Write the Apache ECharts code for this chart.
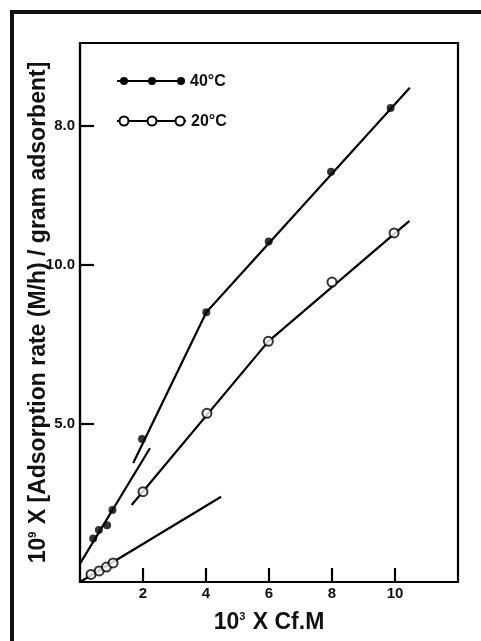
<!DOCTYPE html>
<html>
<head>
<meta charset="utf-8">
<script src="https://cdn.jsdelivr.net/npm/echarts@6/dist/echarts.min.js"></script>
<style>
  html, body { margin: 0; padding: 0; background: #fff; }
  #chart { width: 481px; height: 641px; }
</style>
</head>
<body>
<div id="chart"></div>
<script>
// measured points, x = 10^3 Cf.M, y = adsorption rate (axis units)
const hotX = [0.42, 0.60, 0.86, 1.03, 1.97, 4.01, 5.99, 7.97, 9.86]
const hotY = [1.37, 1.64, 1.79, 2.27, 4.51, 8.51, 10.74, 12.94, 14.95]
const coldX = [0.35, 0.61, 0.84, 1.05, 2.00, 4.03, 5.98, 8.00, 9.97]
const coldY = [0.24, 0.35, 0.47, 0.60, 2.85, 5.32, 7.59, 9.46, 11.01]

// drawn fit lines
const hotLowFit = [[0, 0.58], [2.22, 4.22]]
const hotHighFit = [[1.69, 3.75], [4.01, 8.51], [10.47, 15.59]]
const coldLowFit = [[0, 0], [4.48, 2.69]]
const coldHighFit = [[1.64, 2.43], [5.98, 7.59], [10.46, 11.39]]

// tick labels (as printed on the figure)
const xTickValues = [2, 4, 6, 8, 10]
const yTickValues = [5, 10, 14.4]
const yTickLabels = ['5.0', '10.0', '8.0']

const FONT = "'Liberation Sans', Arial, sans-serif"

const zip = (xs, ys) => xs.map((x, i) => [x, ys[i]])

const fitLine = data => ({
  type: 'line',
  data,
  symbol: 'none',
  silent: true,
  z: 2,
  lineStyle: { color: '#000', width: 2.2 }
})

const nameRich = {
  b: { fontFamily: FONT, fontWeight: 'bold', fontSize: 23, color: '#111' },
  s: { fontFamily: FONT, fontWeight: 'bold', fontSize: 11, color: '#111', verticalAlign: 'top', padding: [0, 1, 12, 0] }
}

const chart = echarts.init(document.getElementById('chart'))
chart.setOption({
  backgroundColor: '#fff',
  animation: false,
  grid: {
    left: 80,
    top: 43,
    right: 23,
    bottom: 59,
    outerBoundsMode: 'none',
    show: true,
    borderColor: '#000',
    borderWidth: 2.2
  },
  xAxis: {
    type: 'value',
    min: 0,
    max: 12,
    interval: 2,
    splitLine: { show: false },
    axisLine: { lineStyle: { color: '#000', width: 2.2 } },
    axisTick: {
      inside: true,
      length: 14,
      customValues: xTickValues,
      lineStyle: { color: '#000', width: 2.2 }
    },
    axisLabel: {
      customValues: xTickValues,
      margin: 4,
      color: '#111',
      fontFamily: FONT,
      fontWeight: 'bold',
      fontSize: 15
    },
    name: '{b|10}{s|3}{b| X Cf.M}',
    nameLocation: 'middle',
    nameGap: 29,
    nameMoveOverlap: false,
    nameTextStyle: { rich: nameRich }
  },
  yAxis: {
    type: 'value',
    min: 0,
    max: 17,
    splitLine: { show: false },
    axisLine: { lineStyle: { color: '#000', width: 2.2 } },
    axisTick: {
      inside: true,
      length: 14,
      customValues: yTickValues,
      lineStyle: { color: '#000', width: 2.2 }
    },
    axisLabel: {
      customValues: yTickValues,
      formatter: v => yTickLabels[yTickValues.indexOf(v)],
      margin: 5,
      color: '#111',
      fontFamily: FONT,
      fontWeight: 'bold',
      fontSize: 15
    },
    name: '{b|10}{s|9}{b| X [Adsorption rate (M/h) / gram adsorbent]}',
    nameLocation: 'middle',
    nameGap: 30,
    nameMoveOverlap: false,
    nameTextStyle: { rich: nameRich }
  },
  graphic: [
    // outer frame (top and left edges)
    { type: 'line', shape: { x1: 10, y1: 12, x2: 481, y2: 12 }, style: { stroke: '#111', lineWidth: 4 } },
    { type: 'line', shape: { x1: 12, y1: 10, x2: 12, y2: 641 }, style: { stroke: '#111', lineWidth: 4 } },
    // legend
    { type: 'line', shape: { x1: 117, y1: 81, x2: 184, y2: 81 }, style: { stroke: '#000', lineWidth: 2.2 } },
    { type: 'circle', shape: { cx: 124, cy: 81, r: 4 }, style: { fill: '#000' } },
    { type: 'circle', shape: { cx: 152, cy: 81, r: 4 }, style: { fill: '#000' } },
    { type: 'circle', shape: { cx: 181, cy: 81, r: 4 }, style: { fill: '#000' } },
    { type: 'text', x: 190, y: 82, style: { text: '40°C', fill: '#111', font: 'bold 16px ' + FONT, verticalAlign: 'middle' } },
    { type: 'line', shape: { x1: 117, y1: 121, x2: 186, y2: 121 }, style: { stroke: '#000', lineWidth: 2.2 } },
    { type: 'circle', shape: { cx: 124, cy: 121, r: 4.5 }, style: { fill: '#fff', stroke: '#000', lineWidth: 2 } },
    { type: 'circle', shape: { cx: 152, cy: 121, r: 4.5 }, style: { fill: '#fff', stroke: '#000', lineWidth: 2 } },
    { type: 'circle', shape: { cx: 180, cy: 121, r: 4.5 }, style: { fill: '#fff', stroke: '#000', lineWidth: 2 } },
    { type: 'text', x: 191, y: 122, style: { text: '20°C', fill: '#111', font: 'bold 16px ' + FONT, verticalAlign: 'middle' } }
  ],
  series: [
    fitLine(hotLowFit),
    fitLine(hotHighFit),
    fitLine(coldLowFit),
    fitLine(coldHighFit),
    {
      name: '40°C',
      type: 'scatter',
      data: zip(hotX, hotY),
      symbol: 'circle',
      symbolSize: 8,
      z: 3,
      itemStyle: { color: '#000' }
    },
    {
      name: '20°C',
      type: 'scatter',
      data: zip(coldX, coldY),
      symbol: 'circle',
      symbolSize: 9,
      z: 3,
      itemStyle: { color: '#fff', borderColor: '#000', borderWidth: 2 }
    }
  ]
})
</script>
</body>
</html>
